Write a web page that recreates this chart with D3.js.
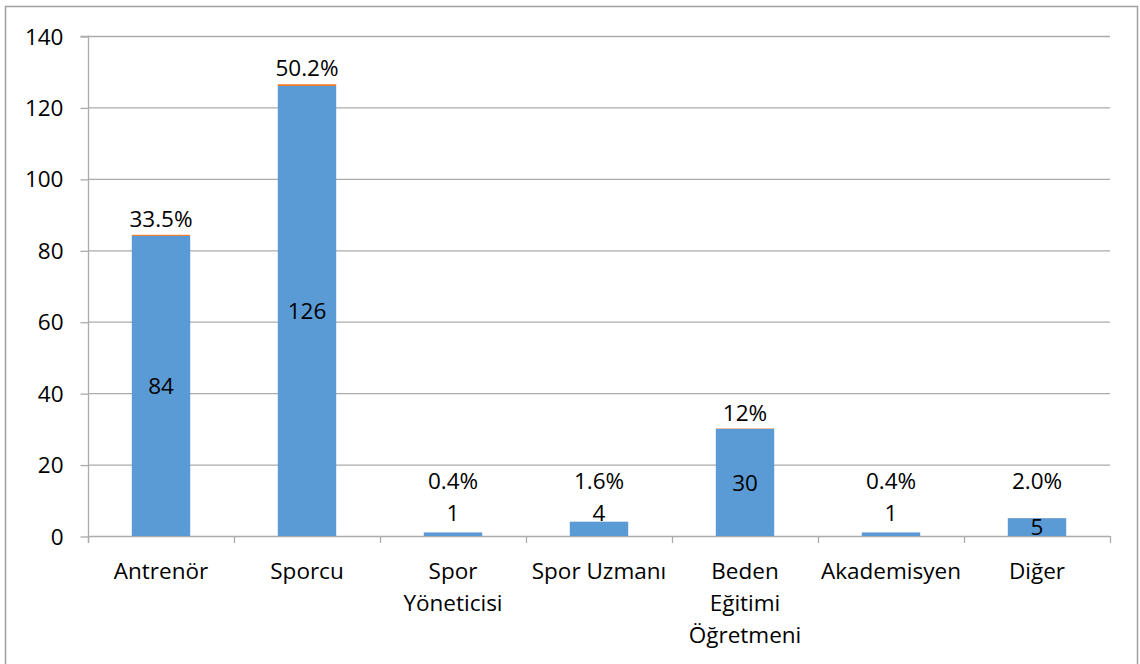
<!DOCTYPE html>
<html>
<head>
<meta charset="utf-8">
<script src="https://cdn.jsdelivr.net/npm/d3@7"></script>
<style>
  html, body { margin: 0; padding: 0; background: #fff; }
  svg { display: block; font-family: "Open Sans", sans-serif; }
</style>
</head>
<body>
<svg id="chart" width="1140" height="664"></svg>
<script>
// ---- data ----
const categories = ["Antrenör", "Sporcu", "Spor\nYöneticisi", "Spor Uzmanı", "Beden\nEğitimi\nÖğretmeni", "Akademisyen", "Diğer"];
const counts = [84, 126, 1, 4, 30, 1, 5];
const shares = [0.335, 0.502, 0.004, 0.016, 0.12, 0.004, 0.02];
const shareLabels = ["33.5%", "50.2%", "0.4%", "1.6%", "12%", "0.4%", "2.0%"];
const yTicks = [0, 20, 40, 60, 80, 100, 120, 140];

// ---- layout ----
const svg = d3.select("#chart");
const plotLeft = 88, plotRight = 1110, plotTop = 36, plotBottom = 536;
const fontSize = 22.5;
const gridColor = "#ABABAB";
const blue = "#5B9BD5", orange = "#ED7D31";

// outer border
svg.append("rect")
  .attr("x", 5.5).attr("y", 6.5).attr("width", 1132).attr("height", 662)
  .attr("fill", "none").attr("stroke", "#A0A0A0").attr("stroke-width", 1.5);

const x = d3.scaleBand().domain(categories).range([plotLeft, plotRight]).paddingInner(0.6).paddingOuter(0.3);
const xOuter = d3.scaleBand().domain(categories).range([plotLeft, plotRight]).padding(0);
const y = d3.scaleLinear().domain([0, 140]).range([plotBottom, plotTop]);

// gridlines
svg.append("g").selectAll("line").data(yTicks.filter(t => t > 0)).join("line")
  .attr("x1", plotLeft).attr("x2", plotRight)
  .attr("y1", d => y(d) + 0.5).attr("y2", d => y(d) + 0.5)
  .attr("stroke", gridColor).attr("stroke-width", 1.3);

// y axis
const yAxis = svg.append("g").attr("transform", `translate(${plotLeft + 0.5},0)`)
  .call(d3.axisLeft(y).tickValues(yTicks).tickSize(8).tickPadding(17).tickFormat(d3.format("d")));
yAxis.select(".domain").attr("stroke", gridColor).attr("stroke-width", 1.3)
  .attr("d", `M-8,${plotTop + 0.5}H0V${plotBottom + 7}`);
yAxis.selectAll(".tick line").attr("stroke", gridColor).attr("stroke-width", 1.3)
  .attr("transform", "translate(0,0.5)");
yAxis.selectAll(".tick text").attr("font-size", fontSize).attr("fill", "#000")
  .attr("font-family", "Open Sans, sans-serif").attr("dy", "0.36em");

// x axis line and category boundary ticks
svg.append("line").attr("x1", plotLeft).attr("x2", plotRight)
  .attr("y1", plotBottom + 0.5).attr("y2", plotBottom + 0.5)
  .attr("stroke", gridColor).attr("stroke-width", 1.3);
const bounds = categories.map(c => xOuter(c) + xOuter.bandwidth()).concat([plotLeft]);
svg.append("g").selectAll("line").data(bounds).join("line")
  .attr("x1", d => d + 0.5).attr("x2", d => d + 0.5)
  .attr("y1", plotBottom).attr("y2", plotBottom + 7)
  .attr("stroke", gridColor).attr("stroke-width", 1.3);

// category labels
const catG = svg.append("g");
categories.forEach(c => {
  const lines = c.split("\n");
  const cx = xOuter(c) + xOuter.bandwidth() / 2;
  const t = catG.append("text")
    .attr("x", cx)
    .attr("y", 579)
    .attr("text-anchor", "middle")
    .attr("font-size", fontSize).attr("fill", "#000");
  lines.forEach((ln, i) => {
    t.append("tspan").attr("x", cx)
      .attr("dy", i === 0 ? 0 : 32).text(ln);
  });
});

// bars
const data = categories.map((c, i) => ({ c, count: counts[i], share: shares[i], label: shareLabels[i] }));
svg.append("g").selectAll("rect").data(data).join("rect")
  .attr("x", d => x(d.c)).attr("width", x.bandwidth())
  .attr("y", d => y(d.count)).attr("height", d => y(0) - y(d.count))
  .attr("fill", blue);
svg.append("g").selectAll("rect").data(data).join("rect")
  .attr("x", d => x(d.c)).attr("width", x.bandwidth())
  .attr("y", d => y(d.count + d.share)).attr("height", d => y(d.count) - y(d.count + d.share))
  .attr("fill", orange);

// count labels
svg.append("g").selectAll("text").data(data).join("text")
  .attr("x", d => x(d.c) + x.bandwidth() / 2)
  .attr("y", d => d.count < 5 ? y(0) - 23 : y(d.count / 2))
  .attr("dy", "0.36em")
  .attr("text-anchor", "middle").attr("font-size", fontSize).attr("fill", "#000")
  .text(d => d.count);

// share labels
svg.append("g").selectAll("text").data(data).join("text")
  .attr("x", d => x(d.c) + x.bandwidth() / 2)
  .attr("y", d => Math.min(y(d.count + d.share) - 16, y(0) - 55))
  .attr("dy", "0.36em")
  .attr("text-anchor", "middle").attr("font-size", fontSize).attr("fill", "#000")
  .text(d => d.label);
</script>
</body>
</html>
